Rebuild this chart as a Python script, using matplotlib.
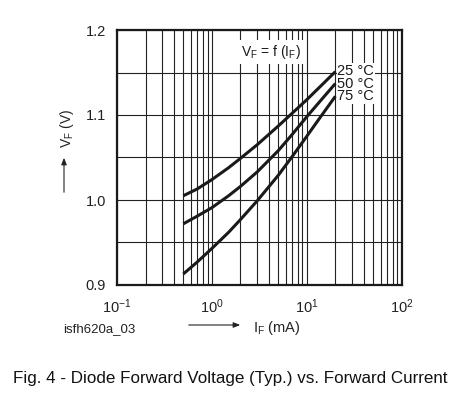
import matplotlib
matplotlib.use("Agg")
import matplotlib.pyplot as plt
from matplotlib.ticker import FixedLocator, LogLocator, NullFormatter

plt.rcParams["font.family"] = ["Liberation Sans", "DejaVu Sans"]
plt.rcParams["mathtext.fontset"] = "custom"
plt.rcParams["mathtext.rm"] = "Liberation Sans"
plt.rcParams["mathtext.it"] = "Liberation Sans"
plt.rcParams["mathtext.bf"] = "Liberation Sans:bold"
plt.rcParams["mathtext.default"] = "regular"

# forward current (mA) and forward voltage (V)
current_ma = [0.5, 0.7, 1, 1.5, 2, 3, 5, 7, 10, 14, 20]
vf_25 = [1.005, 1.013, 1.024, 1.038, 1.049, 1.065, 1.087, 1.102, 1.118, 1.134, 1.151]
vf_50 = [0.972, 0.981, 0.991, 1.005, 1.016, 1.033, 1.058, 1.077, 1.098, 1.117, 1.137]
vf_75 = [0.913, 0.927, 0.943, 0.962, 0.977, 0.999, 1.029, 1.051, 1.075, 1.098, 1.122]
temp_labels = ["25 °C", "50 °C", "75 °C"]

x_ticks = [0.1, 1, 10, 100]
x_tick_labels = [r"$10^{-1}$", r"$10^{0}$", r"$10^{1}$", r"$10^{2}$"]
y_ticks = [0.9, 1.0, 1.1, 1.2]
y_tick_labels = ["0.9", "1.0", "1.1", "1.2"]

W, H = 465, 407
fig = plt.figure(figsize=(W / 100, H / 100), dpi=100)
ax = fig.add_axes([117 / W, 1 - 285 / H, (401.7 - 117) / W, (285 - 30) / H])

ax.set_xscale("log")
ax.set_xlim(0.1, 100)
ax.set_ylim(0.9, 1.2)

ax.xaxis.set_major_locator(FixedLocator(x_ticks))
ax.xaxis.set_minor_locator(LogLocator(base=10, subs=range(2, 10)))
ax.xaxis.set_minor_formatter(NullFormatter())
ax.set_xticklabels(x_tick_labels)
ax.yaxis.set_major_locator(FixedLocator(y_ticks))
ax.yaxis.set_minor_locator(FixedLocator([0.95, 1.05, 1.15]))
ax.set_yticklabels(y_tick_labels)

ax.grid(True, which="both", color="#222222", linewidth=0.8)
ax.tick_params(which="both", length=0, labelsize=10.5, colors="#222222")
ax.tick_params(axis="y", pad=8)
ax.tick_params(axis="x", pad=9)
for s in ax.spines.values():
    s.set_linewidth(1.6)
    s.set_color("#1a1a1a")

for vals in (vf_25, vf_50, vf_75):
    ax.plot(current_ma, vals, color="#1a1a1a", linewidth=2.2,
            solid_capstyle="butt", solid_joinstyle="round", zorder=3)

# temperature labels stacked at the curve ends
ax.text(21, 1.1368, "\n".join(temp_labels), fontsize=10.5, ha="left", va="center",
        linespacing=0.88, color="#1a1a1a",
        bbox=dict(facecolor="white", edgecolor="none", pad=0.6), zorder=4)

ax.text(4.2, 1.174, r"$V_F$ = f ($I_F$)", fontsize=10, ha="center", va="center",
        color="#1a1a1a", bbox=dict(facecolor="white", edgecolor="none", pad=2.0), zorder=4)

# y label with arrow
fig.text(67 / W, 1 - 128.5 / H, r"$V_F$ (V)", rotation=90, fontsize=10,
         ha="center", va="center", color="#222222")
fig.add_artist(matplotlib.patches.FancyArrowPatch(
    (64 / W, 1 - 195 / H), (64 / W, 1 - 155 / H), transform=fig.transFigure,
    arrowstyle="-|>,head_length=4,head_width=1.6", color="#222222", linewidth=0.8))

# x label with arrow
fig.text(63 / W, 1 - 329 / H, "isfh620a_03", fontsize=9.5, ha="left", va="center",
         color="#222222")
fig.add_artist(matplotlib.patches.FancyArrowPatch(
    (186 / W, 1 - 325 / H), (243 / W, 1 - 325 / H), transform=fig.transFigure,
    arrowstyle="-|>,head_length=4,head_width=1.6", color="#222222", linewidth=0.8))
fig.text(253 / W, 1 - 328 / H, r"$I_F$ (mA)", fontsize=10.5, ha="left", va="center",
         color="#222222")

fig.text(230.5 / W, 1 - 379 / H, "Fig. 4 - Diode Forward Voltage (Typ.) vs. Forward Current",
         fontsize=12.25, ha="center", va="center", color="#111111")

fig.savefig("out.png", dpi=100, facecolor="white")
